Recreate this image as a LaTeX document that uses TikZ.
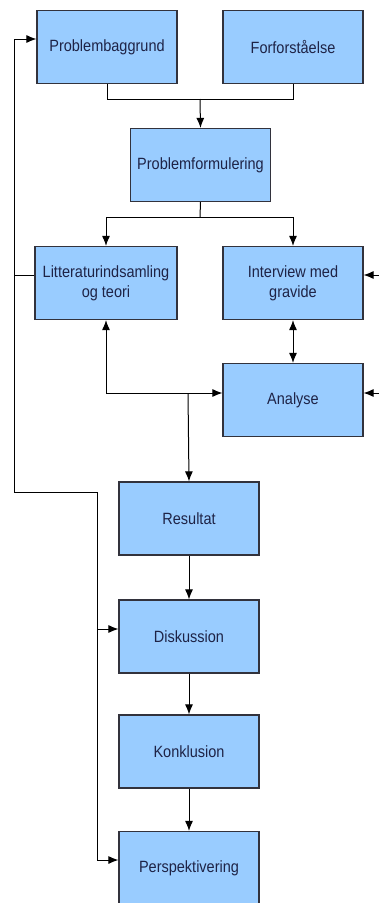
\documentclass[tikz,border=0pt]{standalone}
\usepackage{fontspec}
\newfontfamily\boxfont[FakeStretch=0.89]{Liberation Sans}
\usetikzlibrary{arrows.meta}
\definecolor{boxblue}{RGB}{153,204,255}
\definecolor{boxline}{RGB}{50,50,60}
\definecolor{boxtext}{RGB}{30,35,70}
\tikzset{
  trin/.style={draw=boxline, line width=1.2pt, fill=boxblue, text=boxtext,
    minimum width=140pt, minimum height=73pt, inner sep=0pt, align=center,
    font=\boxfont\fontsize{16.3}{20}\selectfont},
  spids/.style={Latex[length=10pt,width=8pt]},
  pil/.style={line width=1pt, -{Latex[length=10pt,width=8pt]}},
  dobbeltpil/.style={line width=1pt, {Latex[length=10pt,width=8pt]}-{Latex[length=10pt,width=8pt]}},
  linje/.style={line width=1pt}
}
\begin{document}
\begin{tikzpicture}[x=1pt, y=-1pt]
      \useasboundingbox (0, 0) rectangle (379, 903);
      \clip (0, 0) rectangle (379, 903);
      \fill[white] (0, 0) rectangle (379, 903);
      \node[trin] (baggrund) at (107, 47) {Problembaggrund};
      \node[trin] (forforst) at (293, 47) {Forforståelse};
      \node[trin] (formul) at (200.5, 165) {Problemformulering};
      \node[trin, minimum width=142pt] (litt) at (106, 283) {Litteraturindsamling\\og teori};
      \node[trin] (interv) at (293, 283) {Interview med\\gravide};
      \node[trin] (analyse) at (293, 400) {Analyse};
      \node[trin] (result) at (189, 518.5) {Resultat};
      \node[trin] (disk) at (189, 636.5) {Diskussion};
      \node[trin] (konkl) at (189, 751.5) {Konklusion};
      \node[trin] (persp) at (189, 868) {Perspektivering};
      \coordinate (samling) at (200, 99);
      \coordinate (deling) at (200, 217);
      \coordinate (tilbage) at (14, 492);
      \coordinate (tilbagegren) at (97, 492);
      \coordinate (knude) at (188, 393);
      \coordinate (ind1) at (379, 275);
      \coordinate (ind2) at (379, 393);
      \draw[linje] (baggrund.south) |- (samling);
      \draw[linje] (forforst.south) |- (samling);
      \draw[pil] (samling) -- (formul.north);
      \draw[linje] (formul.south) -- (deling);
      \draw[pil] (deling) -| (litt.north);
      \draw[pil] (deling) -| (interv.north);
      \draw[pil] ([yshift=8pt]litt.west) -| ([yshift=8pt]baggrund.west -| tilbage) -- ([yshift=8pt]baggrund.west);
      \draw[linje] ([yshift=8pt]litt.west -| tilbage) |- (tilbagegren);
      \draw[pil] (tilbagegren) |- ([yshift=7.5pt]disk.west);
      \draw[pil] (tilbagegren) |- ([yshift=8pt]persp.west);
      \draw[pil] (ind1) -- (ind1 -| interv.east);
      \draw[pil] (ind2) -- (ind2 -| analyse.east);
      \draw[dobbeltpil] (interv.south) -- (analyse.north);
      \draw[dobbeltpil] (litt.south) |- (ind2 -| analyse.west);
      \draw[pil] (knude) -- (result.north);
      \draw[pil] (result) -- (disk);
      \draw[pil] (disk) -- (konkl);
      \draw[pil] (konkl) -- (persp);
    \end{tikzpicture}
\end{document}
